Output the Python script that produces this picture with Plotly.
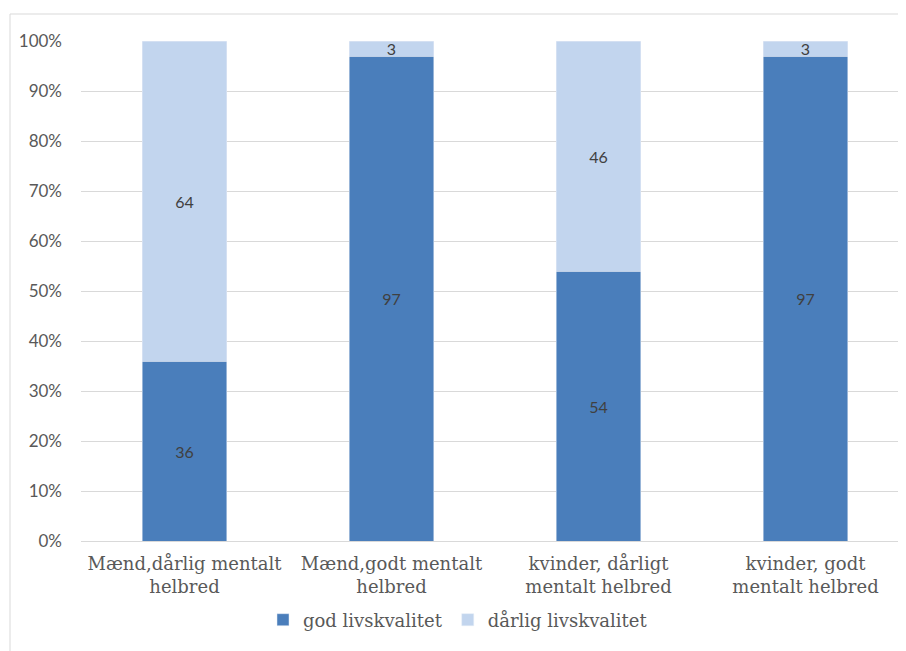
import plotly.graph_objects as go

categories = ["Mænd,dårlig mentalt<br>helbred", "Mænd,godt mentalt<br>helbred",
              "kvinder, dårligt<br>mentalt helbred", "kvinder, godt<br>mentalt helbred"]
god = [36, 97, 54, 97]
darlig = [64, 3, 46, 3]
series_names = ["god livskvalitet", "dårlig livskvalitet"]
y_ticks = [0, 10, 20, 30, 40, 50, 60, 70, 80, 90, 100]
y_ticktext = [f"{v}%" for v in y_ticks]

OFF = 8  # page body margin
W, H = 906, 651
L, R, T, B = 81 - OFF, 0, 41 - OFF, 651 - 541 + OFF
pw = W - L - R
ph = H - T - B

dark = "#4a7ebb"
light = "#c2d5ee"

fig = go.Figure()
fig.add_trace(go.Bar(x=categories, y=god, name=series_names[0], marker_color=dark,
                     text=god, textposition="inside", insidetextanchor="middle",
                     constraintext="none", textangle=0,
                     textfont=dict(family="Lato", size=16, color="#404040"),
                     width=0.406))
fig.add_trace(go.Bar(x=categories, y=darlig, name=series_names[1], marker_color=light,
                     text=darlig, textposition="inside", insidetextanchor="middle",
                     constraintext="none", textangle=0,
                     textfont=dict(family="Lato", size=16, color="#404040"),
                     width=0.406))

fig.update_layout(
    barmode="stack",
    width=W, height=H,
    margin=dict(l=L, r=R, t=T, b=B, pad=0),
    paper_bgcolor="white", plot_bgcolor="white",
    showlegend=True,
    legend=dict(orientation="h", x=(458 - 81) / pw, xanchor="center",
                y=-(620 - 541) / ph, yanchor="middle",
                font=dict(family="DejaVu Serif", size=18, color="#595959"),
                traceorder="normal", itemwidth=30, bgcolor="rgba(0,0,0,0)"),
    xaxis=dict(range=[-0.5, -0.5 + pw / 207.0], showgrid=False, showline=True,
               linecolor="#d9d9d9", linewidth=1, ticks="",
               ticklabelstandoff=6,
               tickfont=dict(family="DejaVu Serif", size=18, color="#595959"),
               fixedrange=True),
    yaxis=dict(range=[0, 100], tickvals=y_ticks, ticktext=y_ticktext,
               showgrid=True, gridcolor="#d9d9d9", gridwidth=1,
               zeroline=False, showline=False, ticks="",
               ticklabelstandoff=18,
               tickfont=dict(family="Lato", size=17, color="#595959")),
    shapes=[
        dict(type="line", xref="paper", yref="paper",
             x0=(10 - 81) / pw, x1=1.05, y0=(541 - 14) / ph, y1=(541 - 14) / ph,
             line=dict(color="#d9d9d9", width=1)),
        dict(type="line", xref="paper", yref="paper",
             x0=(10 - 81) / pw, x1=(10 - 81) / pw, y0=(541 - 14) / ph, y1=-0.3,
             line=dict(color="#d9d9d9", width=1)),
    ],
)

fig.write_html("out.html", config={"displayModeBar": False})
